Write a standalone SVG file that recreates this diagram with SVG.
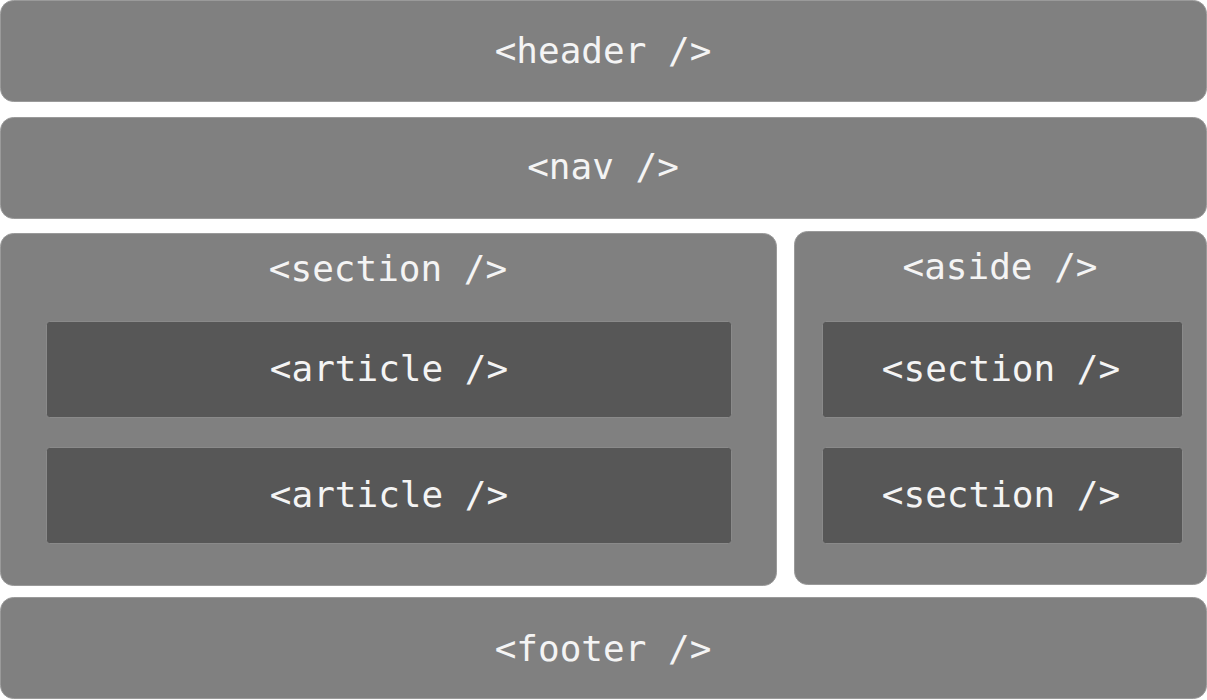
<svg xmlns="http://www.w3.org/2000/svg" width="1207" height="700" viewBox="0 0 1207 700">
  <style>
    .box { fill: #808080; stroke: #9a9a9a; stroke-width: 1; }
    .inner { fill: #575757; stroke: #8a8a8a; stroke-width: 1; }
    .label { font-family: "DejaVu Sans Mono", "Liberation Mono", monospace; font-size: 36px; fill: #f4f4f4; text-anchor: middle; }
  </style>
  <rect width="1207" height="700" fill="#ffffff"/>
  <g id="header">
    <rect class="box" x="0.5" y="0.5" width="1206" height="101" rx="13"/>
    <text class="label" x="603" y="63">&lt;header /&gt;</text>
  </g>
  <g id="nav">
    <rect class="box" x="0.5" y="117.5" width="1206" height="101" rx="13"/>
    <text class="label" x="603" y="179">&lt;nav /&gt;</text>
  </g>
  <g id="section">
    <rect class="box" x="0.5" y="233.5" width="776" height="352" rx="13"/>
    <text class="label" x="388" y="281">&lt;section /&gt;</text>
  </g>
  <g id="article-1">
    <rect class="inner" x="46.5" y="321.5" width="685" height="96" rx="3"/>
    <text class="label" x="389" y="381">&lt;article /&gt;</text>
  </g>
  <g id="article-2">
    <rect class="inner" x="46.5" y="447.5" width="685" height="96" rx="3"/>
    <text class="label" x="389" y="507">&lt;article /&gt;</text>
  </g>
  <g id="aside">
    <rect class="box" x="794.5" y="231.5" width="412" height="353" rx="13"/>
    <text class="label" x="1000" y="279">&lt;aside /&gt;</text>
  </g>
  <g id="aside-section-1">
    <rect class="inner" x="822.5" y="321.5" width="360" height="96" rx="3"/>
    <text class="label" x="1001" y="381">&lt;section /&gt;</text>
  </g>
  <g id="aside-section-2">
    <rect class="inner" x="822.5" y="447.5" width="360" height="96" rx="3"/>
    <text class="label" x="1001" y="507">&lt;section /&gt;</text>
  </g>
  <g id="footer">
    <rect class="box" x="0.5" y="597.5" width="1206" height="101" rx="13"/>
    <text class="label" x="603" y="661">&lt;footer /&gt;</text>
  </g>
  <g id="connectors"></g>
</svg>
